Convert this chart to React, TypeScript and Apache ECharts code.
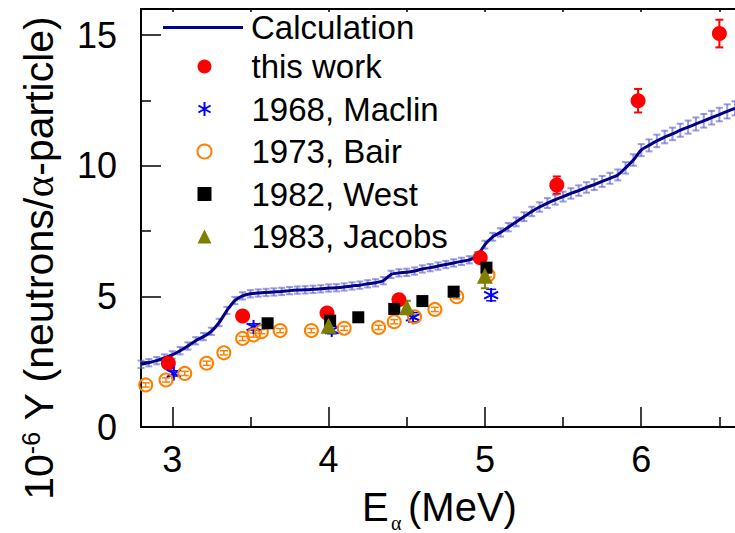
import React, { useEffect, useRef } from 'react';
import * as echarts from 'echarts';

// Calculated thick-target neutron yield (10^-6 n per alpha) with its uncertainty band
const calcEnergy = [
  2.80, 2.85, 2.90, 2.95, 3.00, 3.05, 3.10, 3.15, 3.20, 3.25,
  3.30, 3.35, 3.40, 3.45, 3.50, 3.55, 3.60, 3.65, 3.70, 3.75,
  3.80, 3.85, 3.90, 3.95, 4.00, 4.05, 4.10, 4.15, 4.20, 4.25,
  4.30, 4.35, 4.40, 4.45, 4.50, 4.55, 4.60, 4.65, 4.70, 4.75,
  4.80, 4.85, 4.90, 4.95, 5.00, 5.05, 5.10, 5.15, 5.20, 5.25,
  5.30, 5.35, 5.40, 5.45, 5.50, 5.55, 5.60, 5.65, 5.70, 5.75,
  5.80, 5.85, 5.90, 5.95, 6.00, 6.05, 6.10, 6.15, 6.20, 6.25,
  6.30, 6.35, 6.40, 6.45, 6.50, 6.55, 6.60,
];
const calcYield = [
  2.40, 2.46, 2.54, 2.64, 2.76, 2.92, 3.10, 3.30, 3.46, 3.66,
  4.00, 4.46, 4.84, 5.02, 5.10, 5.13, 5.15, 5.17, 5.19, 5.22,
  5.24, 5.25, 5.27, 5.29, 5.32, 5.33, 5.36, 5.40, 5.43, 5.48,
  5.52, 5.60, 5.84, 5.90, 5.92, 5.97, 6.05, 6.10, 6.16, 6.22,
  6.28, 6.34, 6.40, 6.55, 6.98, 7.28, 7.45, 7.65, 7.85, 8.05,
  8.25, 8.42, 8.57, 8.70, 8.82, 8.94, 9.05, 9.17, 9.28, 9.40,
  9.52, 9.65, 9.92, 10.22, 10.60, 10.78, 10.95, 11.10, 11.22, 11.36,
  11.48, 11.60, 11.72, 11.84, 11.96, 12.08, 12.20,
];
const calcUncertainty = [
  0.14, 0.14, 0.14, 0.14, 0.14, 0.14, 0.14, 0.14, 0.14, 0.14,
  0.14, 0.14, 0.14, 0.14, 0.14, 0.14, 0.14, 0.14, 0.14, 0.14,
  0.14, 0.14, 0.14, 0.14, 0.14, 0.14, 0.14, 0.14, 0.14, 0.14,
  0.14, 0.14, 0.14, 0.14, 0.14, 0.14, 0.14, 0.14, 0.14, 0.14,
  0.14, 0.14, 0.14, 0.14, 0.15, 0.15, 0.16, 0.16, 0.17, 0.17,
  0.18, 0.18, 0.19, 0.19, 0.19, 0.20, 0.20, 0.20, 0.21, 0.21,
  0.21, 0.21, 0.22, 0.22, 0.23, 0.23, 0.24, 0.24, 0.24, 0.25,
  0.25, 0.25, 0.26, 0.26, 0.26, 0.27, 0.27,
];

// Measurements
const thisWorkEnergy = [2.975, 3.45, 3.99, 4.45, 4.97, 5.46, 5.98, 6.50];
const thisWorkYield = [2.44, 4.25, 4.36, 4.87, 6.48, 9.26, 12.49, 15.06];
const thisWorkError = [0.10, 0.12, 0.13, 0.15, 0.20, 0.33, 0.45, 0.53];

const maclinEnergy = [3.01, 3.52, 4.02, 4.54, 5.04];
const maclinYield = [2.05, 3.83, 3.71, 4.20, 5.05];
const maclinError = [0.10, 0.12, 0.14, 0.18, 0.22];

const bairEnergy = [2.83, 2.96, 3.08, 3.22, 3.33, 3.45, 3.52, 3.57, 3.69, 3.89, 4.10, 4.32, 4.42, 4.55, 4.68, 4.82, 5.02];
const bairYield = [1.61, 1.80, 2.05, 2.44, 2.84, 3.39, 3.52, 3.65, 3.69, 3.69, 3.78, 3.81, 4.03, 4.22, 4.50, 4.99, 5.82];
const bairError = [0.08, 0.08, 0.08, 0.08, 0.08, 0.08, 0.08, 0.08, 0.08, 0.08, 0.08, 0.08, 0.08, 0.08, 0.08, 0.08, 0.08];

const westEnergy = [3.61, 4.01, 4.19, 4.42, 4.60, 4.80, 5.01];
const westYield = [3.97, 4.07, 4.20, 4.52, 4.82, 5.18, 6.10];

const jacobsEnergy = [4.00, 4.50, 5.00];
const jacobsYield = [3.88, 4.58, 5.79];
const jacobsError = [0.20, 0.25, 0.48];

// Axis ticks
const xMajorTicks = [3, 4, 5, 6];
const xMinorTicks = [3.5, 4.5, 5.5, 6.5];
const xTopTicks = [3, 3.5, 4, 4.5, 5, 5.5, 6, 6.5];
const yMajorTicks = [0, 5, 10, 15];
const yMinorTicks = [2.5, 7.5, 12.5];

const FONT = '"Liberation Sans", Arial, Helvetica, sans-serif';
const SERIF = '"Liberation Serif", "DejaVu Serif", serif';
const ASTERISK = 'path://M10,0L10,20M1.34,5L18.66,15M1.34,15L18.66,5';

const pairs = (xs: number[], ys: number[]) => xs.map((x, i) => [x, ys[i]]);
const triples = (xs: number[], ys: number[], es: number[]) => xs.map((x, i) => [x, ys[i], es[i]]);

function errorBars(name: string, data: number[][], color: string, capHalf: number, width: number, z: number) {
  return {
    name,
    type: 'custom',
    z,
    data,
    encode: { x: 0, y: 1 },
    silent: true,
    renderItem: (_params: any, api: any) => {
      const x = api.value(0);
      const y = api.value(1);
      const e = api.value(2);
      const top = api.coord([x, y + e]);
      const bot = api.coord([x, y - e]);
      const style = { stroke: color, lineWidth: width };
      return {
        type: 'group',
        children: [
          { type: 'line', shape: { x1: top[0], y1: top[1], x2: bot[0], y2: bot[1] }, style },
          { type: 'line', shape: { x1: top[0] - capHalf, y1: top[1], x2: top[0] + capHalf, y2: top[1] }, style },
          { type: 'line', shape: { x1: bot[0] - capHalf, y1: bot[1], x2: bot[0] + capHalf, y2: bot[1] }, style },
        ],
      };
    },
  };
}

function valueAxis(extra: any) {
  return {
    type: 'value',
    splitLine: { show: false },
    axisLine: { show: false, onZero: false, lineStyle: { color: '#000', width: 2 } },
    axisTick: { show: true, inside: true, lineStyle: { color: '#000', width: 1.5 } },
    axisLabel: { show: false },
    ...extra,
  };
}

export default function App() {
  const ref = useRef<HTMLDivElement>(null);

  useEffect(() => {
    if (!ref.current) return;
    const chart = echarts.init(ref.current, undefined, { renderer: 'svg' });

    const legendText = { fontSize: 33, lineHeight: 33, color: '#000', fontFamily: FONT };

    const option = {
      animation: false,
      textStyle: { fontFamily: FONT },
      grid: { left: 141, top: 9, width: 594, height: 418, containLabel: false },
      xAxis: [
        valueAxis({
          min: 2.8, max: 6.6, position: 'bottom',
          axisLine: { show: true, onZero: false, lineStyle: { color: '#000', width: 2 } },
          axisTick: { show: true, inside: true, length: 20, customValues: xMajorTicks, lineStyle: { color: '#000', width: 1.5 } },
          axisLabel: { show: true, customValues: xMajorTicks, fontSize: 36, color: '#000', margin: 14, fontFamily: FONT },
        }),
        valueAxis({
          min: 2.8, max: 6.6, position: 'bottom',
          axisTick: { show: true, inside: true, length: 10, customValues: xMinorTicks, lineStyle: { color: '#000', width: 1.5 } },
        }),
        valueAxis({
          min: 2.8, max: 6.6, position: 'top',
          axisLine: { show: true, onZero: false, lineStyle: { color: '#000', width: 2 } },
          axisTick: { show: true, inside: true, length: 3, customValues: xTopTicks, lineStyle: { color: '#000', width: 1.5 } },
        }),
      ],
      yAxis: [
        valueAxis({
          min: 0, max: 16, position: 'left',
          axisLine: { show: true, onZero: false, lineStyle: { color: '#000', width: 2 } },
          axisTick: { show: true, inside: true, length: 20, customValues: yMajorTicks, lineStyle: { color: '#000', width: 1.5 } },
          axisLabel: { show: true, customValues: yMajorTicks, fontSize: 36, color: '#000', margin: 24, fontFamily: FONT },
        }),
        valueAxis({
          min: 0, max: 16, position: 'left',
          axisTick: { show: true, inside: true, length: 10, customValues: yMinorTicks, lineStyle: { color: '#000', width: 1.5 } },
        }),
      ],
      legend: [
        {
          data: [{ name: 'Calculation', icon: 'rect' }],
          orient: 'vertical',
          left: 158,
          top: 6,
          itemWidth: 80,
          itemHeight: 3,
          selectedMode: false,
          textStyle: { ...legendText, padding: [0, 0, 0, 3] },
        },
        {
          data: ['this work', '1968, Maclin', '1973, Bair', '1982, West', '1983, Jacobs'],
          orient: 'vertical',
          left: 190,
          top: 45,
          itemWidth: 14,
          itemHeight: 14,
          itemGap: 9.5,
          selectedMode: false,
          textStyle: { ...legendText, padding: [0, 0, 0, 35] },
        },
      ],
      series: [
        errorBars('calc-err', triples(calcEnergy, calcYield, calcUncertainty), 'rgba(90,90,210,0.6)', 3.5, 2, 1),
        {
          name: 'Calculation',
          type: 'line',
          z: 2,
          data: pairs(calcEnergy, calcYield),
          symbol: 'none',
          smooth: 0.2,
          lineStyle: { color: '#00008b', width: 3 },
          itemStyle: { color: '#00008b' },
        },
        errorBars('this-work-err', triples(thisWorkEnergy, thisWorkYield, thisWorkError), '#ff0000', 4, 2, 3),
        {
          name: 'this work',
          type: 'scatter',
          z: 3,
          data: pairs(thisWorkEnergy, thisWorkYield),
          symbol: 'circle',
          symbolSize: 15,
          itemStyle: { color: '#ff0000', opacity: 1 },
        },
        errorBars('maclin-err', triples(maclinEnergy, maclinYield, maclinError), '#0000ff', 5, 1.5, 3),
        {
          name: '1968, Maclin',
          type: 'scatter',
          z: 3,
          data: pairs(maclinEnergy, maclinYield),
          symbol: ASTERISK,
          symbolSize: 14,
          itemStyle: { color: 'none', borderColor: '#0000ff', borderWidth: 2, opacity: 1 },
        },
        errorBars('bair-err', triples(bairEnergy, bairYield, bairError), '#ff8000', 4, 1.5, 3),
        {
          name: '1973, Bair',
          type: 'scatter',
          z: 3,
          data: pairs(bairEnergy, bairYield),
          symbol: 'circle',
          symbolSize: 13,
          itemStyle: { color: 'none', borderColor: '#ff8000', borderWidth: 2, opacity: 1 },
        },
        {
          name: '1982, West',
          type: 'scatter',
          z: 3,
          data: pairs(westEnergy, westYield),
          symbol: 'rect',
          symbolSize: 12,
          itemStyle: { color: '#000000', opacity: 1 },
        },
        errorBars('jacobs-err', triples(jacobsEnergy, jacobsYield, jacobsError), '#808000', 4, 2, 3),
        {
          name: '1983, Jacobs',
          type: 'scatter',
          z: 3,
          data: pairs(jacobsEnergy, jacobsYield),
          symbol: 'triangle',
          symbolSize: 16,
          itemStyle: { color: '#808000', opacity: 1 },
        },
      ],
      graphic: [
        {
          type: 'text',
          x: 39,
          y: 258,
          rotation: Math.PI / 2,
          style: {
            text: '{m|10}{s|-6}{m| Y (neutrons/}{g|α}{m|-particle)}',
            align: 'center',
            verticalAlign: 'middle',
            fill: '#000',
            rich: {
              m: { fontSize: 41, lineHeight: 41, fontFamily: FONT, fill: '#000' },
              s: { fontSize: 25, lineHeight: 25, fontFamily: FONT, fill: '#000', verticalAlign: 'top', padding: [0, 0, 40, 0] },
              g: { fontSize: 41, lineHeight: 41, fontFamily: SERIF, fill: '#000' },
            },
          },
        },
        {
          type: 'text',
          x: 362,
          y: 507,
          style: { text: 'E', font: `40px ${FONT}`, fill: '#000', align: 'left', verticalAlign: 'middle' },
        },
        {
          type: 'text',
          x: 391,
          y: 523,
          style: { text: 'α', font: `20px ${SERIF}`, fill: '#000', align: 'left', verticalAlign: 'middle' },
        },
        {
          type: 'text',
          x: 408,
          y: 507,
          style: { text: '(MeV)', font: `40px ${FONT}`, fill: '#000', align: 'left', verticalAlign: 'middle' },
        },
      ],
    };

    chart.setOption(option as any);
    return () => chart.dispose();
  }, []);

  return (
    <div
      ref={ref}
      style={{ position: 'fixed', left: 0, top: 0, width: 735, height: 533, background: '#fff' }}
    />
  );
}
